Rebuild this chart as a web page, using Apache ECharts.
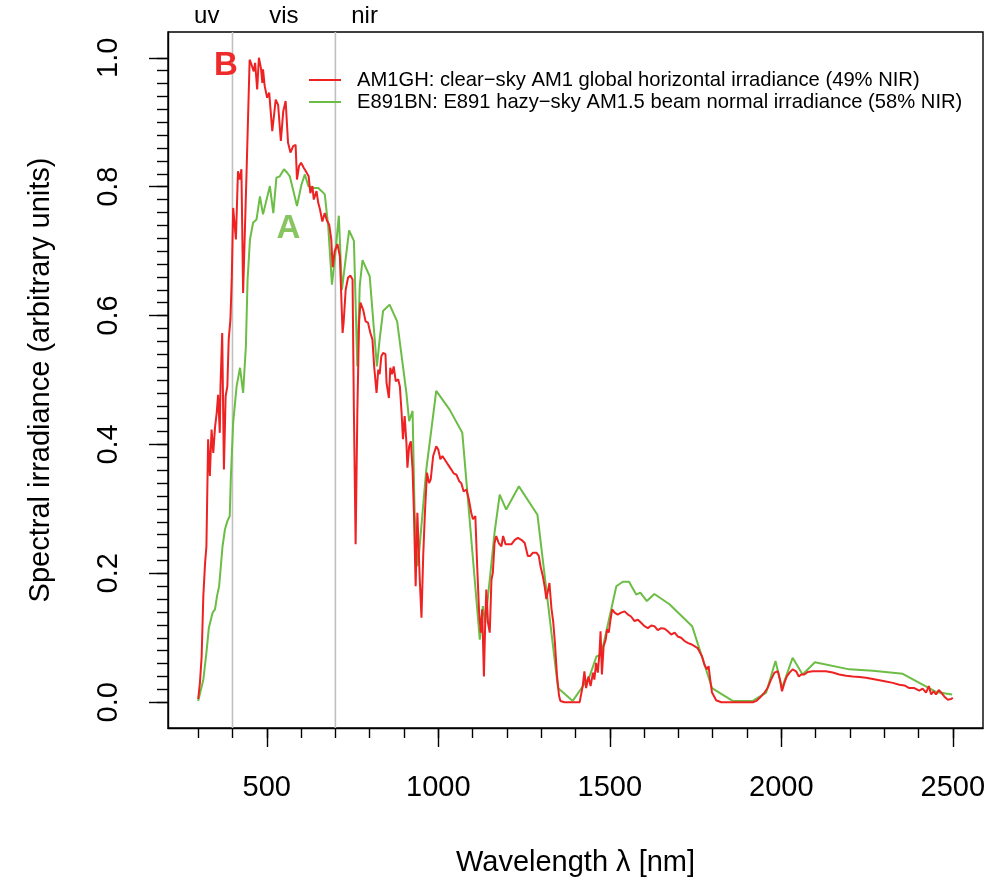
<!DOCTYPE html>
<html>
<head>
<meta charset="utf-8">
<script src="https://cdn.jsdelivr.net/npm/echarts@6/dist/echarts.min.js"></script>
<style>html,body{margin:0;padding:0;background:#fff}#c{width:1003px;height:885px}</style>
</head>
<body>
<div id="c"></div>
<script>
// ---- data ----
const redName = 'AM1GH: clear\u2212sky AM1 global horizontal irradiance (49% NIR)';
const greenName = 'E891BN: E891 hazy\u2212sky AM1.5 beam normal irradiance (58% NIR)';

const redWl = [300,305,310,315,320,324,329,334,339,344,349,354,358,363,365,370,375,380,385,389,394,398,402,410,416,421,426,431,441,450,455,462,466,472,477,483,487,489,494,501,507,516,526,533,541,548,555,562,569,577,584,588,594,600,608,614,622,627,633,637,645,650,655,662,669,675,682,688,692,698,706,713,721,724,730,737,744,750,754,759,764,769,773,781,788,795,802,808,813,820,825,829,834,839,846,849,856,860,865,870,876,883,888,893,897,902,907,910,915,920,925,929,934,939,946,951,956,961,967,973,978,985,994,1000,1006,1012,1022,1028,1038,1045,1053,1061,1067,1074,1082,1089,1096,1101,1108,1113,1119,1124,1128,1133,1137,1140,1145,1150,1155,1159,1164,1169,1176,1184,1189,1196,1203,1213,1223,1232,1242,1252,1261,1268,1276,1286,1293,1298,1305,1310,1315,1320,1324,1330,1335,1340,1346,1352,1356,1368,1412,1421,1426,1431,1438,1444,1451,1455,1460,1465,1470,1473,1477,1482,1488,1492,1497,1502,1507,1514,1523,1533,1543,1553,1562,1572,1582,1592,1601,1611,1621,1630,1640,1650,1660,1669,1679,1689,1698,1708,1718,1727,1737,1747,1756,1763,1769,1776,1783,1788,1793,1798,1810,1825,1917,1927,1941,1951,1960,1970,1980,1990,1996,2002,2009,2016,2024,2033,2043,2051,2058,2067,2077,2092,2111,2130,2150,2169,2189,2208,2228,2247,2267,2286,2305,2325,2344,2359,2373,2388,2402,2412,2422,2430,2437,2444,2451,2459,2466,2475,2485,2495,2500];
const redVal = [0.005,0.03,0.07,0.165,0.215,0.242,0.408,0.351,0.423,0.387,0.426,0.449,0.477,0.418,0.49,0.573,0.361,0.475,0.49,0.563,0.594,0.66,0.767,0.718,0.824,0.811,0.827,0.635,0.822,0.997,0.99,0.979,0.992,0.951,1.0,0.984,0.961,0.982,0.956,0.938,0.946,0.886,0.935,0.927,0.871,0.917,0.933,0.868,0.853,0.863,0.865,0.811,0.832,0.837,0.829,0.824,0.816,0.79,0.801,0.78,0.793,0.775,0.765,0.746,0.759,0.748,0.741,0.718,0.675,0.70,0.711,0.692,0.573,0.589,0.64,0.659,0.662,0.656,0.449,0.245,0.45,0.589,0.62,0.609,0.591,0.589,0.573,0.563,0.521,0.48,0.516,0.509,0.537,0.542,0.54,0.496,0.472,0.519,0.509,0.521,0.498,0.501,0.49,0.449,0.408,0.444,0.403,0.364,0.397,0.405,0.361,0.294,0.18,0.294,0.19,0.131,0.227,0.294,0.356,0.34,0.346,0.382,0.397,0.392,0.377,0.382,0.374,0.369,0.361,0.355,0.353,0.343,0.34,0.327,0.33,0.315,0.294,0.284,0.289,0.216,0.139,0.108,0.144,0.04,0.128,0.175,0.123,0.108,0.19,0.201,0.247,0.258,0.247,0.242,0.258,0.245,0.245,0.245,0.252,0.255,0.252,0.247,0.227,0.227,0.232,0.232,0.227,0.211,0.195,0.18,0.16,0.16,0.185,0.145,0.125,0.092,0.042,0.01,0.002,0.0,0.0,0.025,0.048,0.022,0.04,0.025,0.046,0.035,0.061,0.046,0.077,0.11,0.043,0.087,0.097,0.113,0.108,0.128,0.144,0.139,0.136,0.139,0.141,0.136,0.133,0.126,0.128,0.123,0.118,0.115,0.119,0.118,0.112,0.115,0.114,0.11,0.105,0.108,0.102,0.1,0.095,0.092,0.09,0.087,0.084,0.077,0.071,0.058,0.051,0.056,0.034,0.015,0.003,0.0,0.0,0.002,0.009,0.015,0.022,0.035,0.046,0.048,0.035,0.017,0.03,0.04,0.046,0.051,0.048,0.04,0.043,0.043,0.047,0.048,0.048,0.048,0.046,0.043,0.041,0.04,0.039,0.038,0.036,0.034,0.032,0.03,0.027,0.026,0.022,0.022,0.018,0.021,0.015,0.025,0.012,0.017,0.012,0.019,0.015,0.009,0.004,0.005,0.007];

const greenWl = [300,305,315,324,331,336,342,349,355,361,366,371,378,385,392,395,402,412,422,431,439,444,451,460,470,480,489,509,519,528,538,550,559,567,579,588,601,611,621,633,650,660,669,679,690,700,710,719,740,754,764,771,779,800,821,829,839,858,880,897,907,915,925,931,939,944,965,994,1033,1070,1121,1130,1137,1164,1179,1198,1235,1289,1349,1392,1441,1461,1475,1519,1538,1556,1577,1589,1608,1630,1674,1740,1798,1858,1917,1956,1983,2002,2033,2062,2098,2198,2267,2354,2451,2498];
const greenVal = [0.002,0.003,0.035,0.077,0.115,0.118,0.139,0.144,0.165,0.18,0.211,0.242,0.268,0.281,0.289,0.346,0.434,0.49,0.519,0.48,0.552,0.656,0.718,0.744,0.749,0.785,0.757,0.801,0.759,0.814,0.816,0.827,0.822,0.816,0.79,0.77,0.803,0.819,0.801,0.798,0.798,0.793,0.788,0.739,0.648,0.697,0.755,0.64,0.732,0.716,0.521,0.646,0.686,0.661,0.521,0.563,0.607,0.617,0.591,0.521,0.48,0.436,0.452,0.294,0.211,0.232,0.361,0.483,0.454,0.418,0.097,0.149,0.123,0.263,0.322,0.299,0.335,0.291,0.022,0.002,0.04,0.071,0.074,0.18,0.187,0.187,0.167,0.17,0.157,0.168,0.152,0.118,0.022,0.002,0.002,0.015,0.064,0.022,0.069,0.043,0.062,0.051,0.049,0.044,0.016,0.012];

const xMajorTicks = [500, 1000, 1500, 2000, 2500];
const xMinorTicks = [300,400,500,600,700,800,900,1000,1100,1200,1300,1400,1500,1600,1700,1800,1900,2000,2100,2200,2300,2400,2500];
const yMajorTicks = [0, 0.2, 0.4, 0.6, 0.8, 1.0];
const yMinorTicks = Array.from({length: 51}, (_, i) => Math.round(i * 2) / 100);
const bandEdges = [400, 700];
const bandLabelPos = [325, 550, 785];
const bandLabels = ['uv', 'vis', 'nir'];
const xRange = [212, 2588];
const yRange = [-0.04, 1.04];
const curveTags = [
  {text: 'B', wl: 381, val: 0.988, color: '#ee2a2a'},
  {text: 'A', wl: 563, val: 0.735, color: '#88c462'}
];

// ---- chart ----
const FONT = 'Liberation Sans, Arial, sans-serif';
const RED = '#ee2222';
const GREEN = '#6cbd45';
const chart = echarts.init(document.getElementById('c'));

const pairs = (xs, ys) => xs.map((x, i) => [x, ys[i]]);

const xBase = {type: 'value', min: xRange[0], max: xRange[1], gridIndex: 0, splitLine: {show: false}};
const yBase = {type: 'value', min: yRange[0], max: yRange[1], gridIndex: 0, splitLine: {show: false}};
const tickLine = {color: '#000', width: 1.4};

const option = {
  animation: false,
  backgroundColor: '#fff',
  textStyle: {fontFamily: FONT},
  grid: {left: 168, right: 20, top: 32, bottom: 157, show: true, borderColor: '#000', borderWidth: 1.4, containLabel: false, outerBoundsMode: 'none'},
  legend: {
    data: [redName, greenName], orient: 'vertical', left: 309, top: 70, padding: 0, itemGap: 2,
    itemWidth: 32, itemHeight: 2, icon: 'rect', selectedMode: false,
    textStyle: {fontSize: 20.2, fontFamily: FONT, color: '#000', padding: [0, 0, 0, 11]}
  },
  xAxis: [
    Object.assign({}, xBase, {
      position: 'bottom',
      name: 'Wavelength \u03bb [nm]', nameLocation: 'middle', nameGap: 120,
      nameTextStyle: {fontSize: 29, color: '#000', fontFamily: FONT},
      axisLine: {show: true, onZero: false, lineStyle: tickLine},
      axisTick: {show: true, customValues: xMajorTicks, length: 19, lineStyle: tickLine},
      axisLabel: {show: true, customValues: xMajorTicks, margin: 45, fontSize: 29, color: '#000', fontFamily: FONT,
        formatter: v => String(v)}
    }),
    Object.assign({}, xBase, {
      position: 'bottom',
      axisLine: {show: false, onZero: false},
      axisTick: {show: true, customValues: xMinorTicks, length: 10, lineStyle: tickLine},
      axisLabel: {show: false}
    }),
    Object.assign({}, xBase, {
      position: 'top',
      axisLine: {show: false, onZero: false},
      axisTick: {show: false},
      axisLabel: {show: true, customValues: bandLabelPos, margin: 4, fontSize: 24, color: '#000', fontFamily: FONT,
        formatter: v => bandLabels[bandLabelPos.indexOf(v)] || ''}
    })
  ],
  yAxis: [
    Object.assign({}, yBase, {
      position: 'left',
      name: 'Spectral irradiance (arbitrary units)', nameLocation: 'middle', nameGap: 113, nameRotate: 90,
      nameTextStyle: {fontSize: 29, color: '#000', fontFamily: FONT},
      axisLine: {show: true, onZero: false, lineStyle: tickLine},
      axisTick: {show: true, customValues: yMajorTicks, length: 19, lineStyle: tickLine},
      axisLabel: {show: true, customValues: yMajorTicks, rotate: 90, margin: 45, fontSize: 29, color: '#000', fontFamily: FONT,
        formatter: v => v.toFixed(1)}
    }),
    Object.assign({}, yBase, {
      position: 'left',
      axisLine: {show: false, onZero: false},
      axisTick: {show: true, customValues: yMinorTicks, length: 11, lineStyle: tickLine},
      axisLabel: {show: false}
    })
  ],
  series: [
    ...bandEdges.map((b, i) => ({
      type: 'line', name: 'edge' + i, xAxisIndex: 0, yAxisIndex: 0, silent: true, showSymbol: false, z: 1,
      data: [[b, yRange[0]], [b, yRange[1]]],
      lineStyle: {color: '#c0c0c0', width: 1.6}
    })),
    {
      type: 'line', name: redName, xAxisIndex: 0, yAxisIndex: 0, showSymbol: false, z: 3,
      data: pairs(redWl, redVal), color: RED, lineStyle: {color: RED, width: 2}
    },
    {
      type: 'line', name: greenName, xAxisIndex: 0, yAxisIndex: 0, showSymbol: false, z: 2,
      data: pairs(greenWl, greenVal), color: GREEN, lineStyle: {color: GREEN, width: 2}
    },
    {
      type: 'custom', name: 'tags', xAxisIndex: 0, yAxisIndex: 0, silent: true, z: 5,
      data: curveTags.map(t => [t.wl, t.val]),
      renderItem: (params, api) => {
        const t = curveTags[params.dataIndex];
        const p = api.coord([api.value(0), api.value(1)]);
        return {
          type: 'text', x: p[0], y: p[1],
          style: {text: t.text, fill: t.color, font: 'bold 33px ' + FONT, align: 'center', verticalAlign: 'middle'}
        };
      }
    }
  ]
};
chart.setOption(option);
</script>
</body>
</html>
